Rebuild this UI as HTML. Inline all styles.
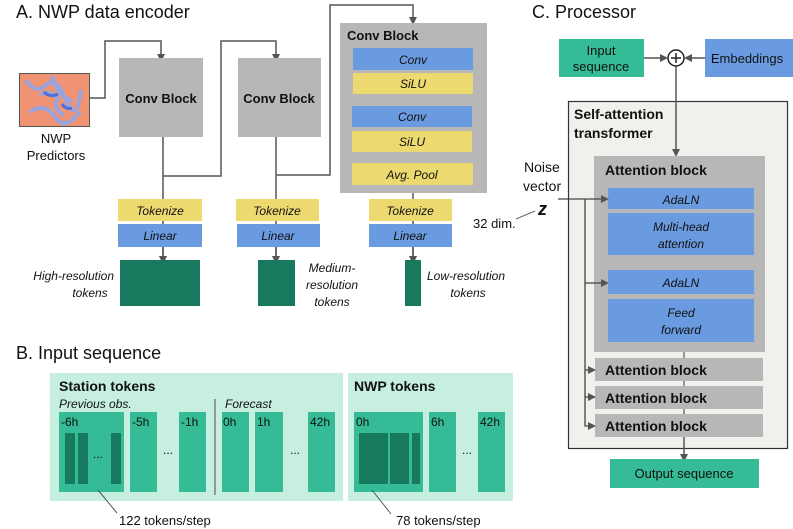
<!DOCTYPE html>
<html><head><meta charset="utf-8"><style>
html,body{margin:0;padding:0;background:#fff}
svg{display:block}
text{font-family:"Liberation Sans",sans-serif;fill:#111}
.b{font-weight:bold}
.i{font-style:italic}
</style></head><body>
<svg width="793" height="529" viewBox="0 0 793 529" xmlns="http://www.w3.org/2000/svg">
<defs>
<marker id="a" markerWidth="8" markerHeight="8" refX="6" refY="4" orient="auto" markerUnits="userSpaceOnUse">
<path d="M0,0 L8,4 L0,8 z" fill="#555"/></marker>
</defs>

<!-- A -->
<text x="16" y="18" font-size="18">A. NWP data encoder</text>
<rect x="19.5" y="73.5" width="70" height="53" fill="#ef9373" stroke="#555" stroke-width="1"/>
<path d="M26,80 q10,15 20,5 t20,15 t15,-10 M30,112 q15,-10 25,5 t25,-6 M52,76 q5,20 20,25 M40,95 q10,-6 18,4 q-6,10 6,16" stroke="#8fa6ea" stroke-width="4" fill="none" opacity="0.9"/>
<path d="M44,92 q6,6 14,2 M62,104 q4,6 10,4" stroke="#4d6fd8" stroke-width="3" fill="none"/>
<text x="56" y="143" font-size="13" text-anchor="middle">NWP</text>
<text x="56" y="160" font-size="13" text-anchor="middle">Predictors</text>

<g stroke="#555" stroke-width="1.5" fill="none">
<path d="M89,98 H105 V41 H161 V60" marker-end="url(#a)"/>
<path d="M163,137 V262" marker-end="url(#a)"/>
<path d="M163,176 H221 V41 H276 V60" marker-end="url(#a)"/>
<path d="M276,137 V262" marker-end="url(#a)"/>
<path d="M276,175 H330 V5 H413 V23" marker-end="url(#a)"/>
<path d="M413,193 V262" marker-end="url(#a)"/>
</g>

<rect x="119" y="58" width="84" height="79" fill="#b7b7b7"/>
<text x="161" y="103" font-size="13" class="b" text-anchor="middle">Conv Block</text>
<rect x="238" y="58" width="83" height="79" fill="#b7b7b7"/>
<text x="279" y="103" font-size="13" class="b" text-anchor="middle">Conv Block</text>
<rect x="340" y="23" width="147" height="170" fill="#b7b7b7"/>
<text x="347" y="40" font-size="13" class="b">Conv Block</text>
<rect x="353" y="48" width="120" height="22" fill="#6a9be0"/><text x="413" y="64" font-size="12" class="i" text-anchor="middle">Conv</text>
<rect x="353" y="73" width="120" height="21" fill="#ecd96f"/><text x="413" y="88" font-size="12" class="i" text-anchor="middle">SiLU</text>
<rect x="352" y="106" width="120" height="21" fill="#6a9be0"/><text x="412" y="121" font-size="12" class="i" text-anchor="middle">Conv</text>
<rect x="352" y="131" width="120" height="21" fill="#ecd96f"/><text x="412" y="146" font-size="12" class="i" text-anchor="middle">SiLU</text>
<rect x="352" y="163" width="121" height="22" fill="#ecd96f"/><text x="412" y="179" font-size="12" class="i" text-anchor="middle">Avg. Pool</text>

<g font-size="12" class="i">
<rect x="118" y="199" width="84" height="22" fill="#ecd96f"/><text x="160" y="215" text-anchor="middle">Tokenize</text>
<rect x="118" y="224" width="84" height="23" fill="#6a9be0"/><text x="160" y="240" text-anchor="middle">Linear</text>
<rect x="236" y="199" width="83" height="22" fill="#ecd96f"/><text x="277" y="215" text-anchor="middle">Tokenize</text>
<rect x="237" y="224" width="83" height="23" fill="#6a9be0"/><text x="278" y="240" text-anchor="middle">Linear</text>
<rect x="369" y="199" width="83" height="22" fill="#ecd96f"/><text x="410" y="215" text-anchor="middle">Tokenize</text>
<rect x="369" y="224" width="83" height="23" fill="#6a9be0"/><text x="410" y="240" text-anchor="middle">Linear</text>
</g>
<g stroke="#555" stroke-width="1.5" fill="none">
<path d="M163,247 V262" marker-end="url(#a)"/><path d="M276,247 V262" marker-end="url(#a)"/><path d="M413,247 V262" marker-end="url(#a)"/>
</g>
<rect x="120" y="260" width="80" height="46" fill="#177a5e"/>
<rect x="258" y="260" width="37" height="46" fill="#177a5e"/>
<rect x="405" y="260" width="16" height="46" fill="#177a5e"/>
<g font-size="12" class="i" fill="#222">
<text x="114" y="280" text-anchor="end">High-resolution</text>
<text x="90" y="297" text-anchor="middle">tokens</text>
<text x="332" y="272" text-anchor="middle">Medium-</text>
<text x="332" y="289" text-anchor="middle">resolution</text>
<text x="332" y="306" text-anchor="middle">tokens</text>
<text x="466" y="280" text-anchor="middle">Low-resolution</text>
<text x="468" y="297" text-anchor="middle">tokens</text>
</g>

<!-- B -->
<text x="16" y="359" font-size="18">B. Input sequence</text>
<rect x="50" y="373" width="293" height="128" fill="#c6efdf"/>
<rect x="348" y="373" width="165" height="128" fill="#c6efdf"/>
<text x="59" y="391" font-size="14" class="b">Station tokens</text>
<text x="59" y="408" font-size="12" class="i">Previous obs.</text>
<text x="225" y="408" font-size="12" class="i">Forecast</text>
<line x1="215" y1="399" x2="215" y2="495" stroke="#666" stroke-width="1.2"/>
<text x="354" y="391" font-size="14" class="b">NWP tokens</text>
<g fill="#35bb96">
<rect x="59" y="412" width="65" height="80"/><rect x="130" y="412" width="27" height="80"/><rect x="179" y="412" width="27" height="80"/>
<rect x="222" y="412" width="27" height="80"/><rect x="255" y="412" width="28" height="80"/><rect x="308" y="412" width="27" height="80"/>
<rect x="354" y="412" width="69" height="80"/><rect x="429" y="412" width="27" height="80"/><rect x="478" y="412" width="27" height="80"/>
</g>
<g fill="#177a5e">
<rect x="65" y="433" width="10" height="51"/><rect x="78" y="433" width="10" height="51"/><rect x="111" y="433" width="10" height="51"/>
<rect x="359" y="433" width="29" height="51"/><rect x="390" y="433" width="19" height="51"/><rect x="412" y="433" width="8" height="51"/>
</g>
<g font-size="12">
<text x="61" y="426">-6h</text><text x="132" y="426">-5h</text><text x="181" y="426">-1h</text>
<text x="223" y="426">0h</text><text x="257" y="426">1h</text><text x="310" y="426">42h</text>
<text x="356" y="426">0h</text><text x="431" y="426">6h</text><text x="480" y="426">42h</text>
<text x="98" y="458" text-anchor="middle">...</text><text x="168" y="454" text-anchor="middle">...</text>
<text x="295" y="454" text-anchor="middle">...</text><text x="467" y="454" text-anchor="middle">...</text>
</g>
<line x1="98" y1="490" x2="117" y2="513" stroke="#555"/>
<line x1="372" y1="490" x2="391" y2="514" stroke="#555"/>
<text x="119" y="525" font-size="13">122 tokens/step</text>
<text x="396" y="525" font-size="13">78 tokens/step</text>

<!-- C -->
<text x="532" y="18" font-size="18">C. Processor</text>
<rect x="559" y="39" width="85" height="38" fill="#35bb96"/>
<text x="601" y="55" font-size="13" text-anchor="middle">Input</text>
<text x="601" y="71" font-size="13" text-anchor="middle">sequence</text>
<rect x="705" y="39" width="88" height="38" fill="#6a9be0"/>
<text x="747" y="63" font-size="13" text-anchor="middle">Embeddings</text>
<rect x="568.5" y="101.5" width="219" height="347" fill="#f2f0ec" stroke="#333" stroke-width="1.2"/>
<text x="574" y="119" font-size="14" class="b">Self-attention</text>
<text x="574" y="138" font-size="14" class="b">transformer</text>
<g stroke="#555" stroke-width="1.5" fill="none">
<path d="M644,58 H666" marker-end="url(#a)"/>
<path d="M705,58 H686" marker-end="url(#a)"/>
<path d="M676,66 V155" marker-end="url(#a)"/>
</g>
<circle cx="676" cy="58" r="8" fill="#fff" stroke="#222" stroke-width="1.5"/>
<path d="M671,58 H681 M676,53 V63" stroke="#222" stroke-width="1.5"/>

<rect x="594" y="156" width="171" height="196" fill="#b7b7b7"/>
<text x="605" y="175" font-size="14" class="b">Attention block</text>
<g font-size="12" class="i">
<rect x="608" y="188" width="146" height="21" fill="#6a9be0"/><text x="681" y="204" text-anchor="middle">AdaLN</text>
<rect x="608" y="213" width="146" height="42" fill="#6a9be0"/><text x="681" y="231" text-anchor="middle">Multi-head</text><text x="681" y="248" text-anchor="middle">attention</text>
<rect x="608" y="270" width="146" height="24" fill="#6a9be0"/><text x="681" y="287" text-anchor="middle">AdaLN</text>
<rect x="608" y="299" width="146" height="43" fill="#6a9be0"/><text x="681" y="317" text-anchor="middle">Feed</text><text x="681" y="334" text-anchor="middle">forward</text>
</g>
<line x1="684" y1="352" x2="684" y2="437" stroke="#777" stroke-width="1.5"/>
<rect x="595" y="358" width="168" height="23" fill="#b7b7b7"/><text x="605" y="375" font-size="14" class="b">Attention block</text>
<rect x="595" y="386" width="168" height="23" fill="#b7b7b7"/><text x="605" y="403" font-size="14" class="b">Attention block</text>
<rect x="595" y="414" width="168" height="23" fill="#b7b7b7"/><text x="605" y="431" font-size="14" class="b">Attention block</text>
<g stroke="#444" stroke-width="1.3" fill="none">
<path d="M558,199 H607" marker-end="url(#a)"/>
<path d="M585,199 V426 H594" marker-end="url(#a)"/>
<path d="M585,283 H607" marker-end="url(#a)"/>
<path d="M585,370 H594" marker-end="url(#a)"/>
<path d="M585,397 H594" marker-end="url(#a)"/>
<path d="M684,437 V460" marker-end="url(#a)" stroke="#555" stroke-width="1.5"/>
</g>
<text x="524" y="172" font-size="14">Noise</text>
<text x="523" y="191" font-size="14">vector</text>
<text x="538" y="215" font-size="18" class="b i" font-family="Liberation Serif">z</text>
<line x1="516" y1="219" x2="535" y2="211" stroke="#666"/>
<text x="473" y="228" font-size="13">32 dim.</text>
<rect x="610" y="459" width="149" height="29" fill="#35bb96"/>
<text x="684" y="478" font-size="13" text-anchor="middle">Output sequence</text>
</svg>
</body></html>
